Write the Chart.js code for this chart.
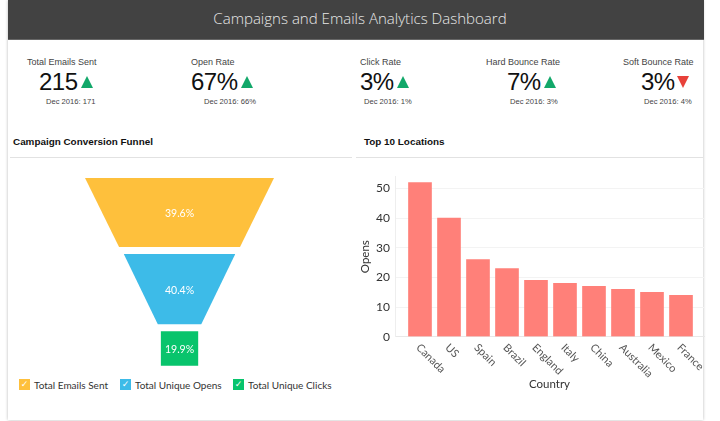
<!DOCTYPE html>
<html>
<head>
<meta charset="utf-8">
<script src="https://cdn.jsdelivr.net/npm/chart.js@4"></script>
<style>
  html, body { margin: 0; padding: 0; background: #fff; }
  body { position: relative; width: 720px; height: 421px; overflow: hidden; font-family: "Liberation Sans", Arial, sans-serif; }
  .card { position: absolute; left: 8px; top: 0; width: 695px; height: 420px; background: #fff; box-shadow: 0 0 3px rgba(0,0,0,0.28); }
  .header { position: absolute; left: 8px; top: 0; width: 688px; padding-left: 8px; height: 39px; background: #424242; border-bottom: 1px solid #666; color: #e8e8e8; font: 300 15.05px/37px "Open Sans", sans-serif; text-align: center; }
  .kpi-label, .kpi-value, .kpi-prev { position: absolute; white-space: nowrap; }
  .kpi-label { top: 56px; font-size: 9px; line-height: 12px; color: #444; }
  .kpi-value { top: 68px; font-size: 24px; letter-spacing: -0.5px; line-height: 28px; color: #111; }
  .kpi-prev { top: 97px; font-size: 7.6px; line-height: 10px; color: #444; }
  .tri { position: absolute; width: 0; height: 0; border-left: 6.5px solid transparent; border-right: 6.5px solid transparent; }
  .tri.up { top: 76px; border-bottom: 12px solid #12a86a; }
  .tri.down { top: 76px; border-top: 12px solid #e8413a; }
  .section { position: absolute; top: 136px; font-size: 9.9px; font-weight: bold; line-height: 12px; color: #111; white-space: nowrap; }
  .rule { position: absolute; top: 157px; height: 1px; background: #e2e2e2; }
  canvas { position: absolute; }
  .legend { position: absolute; top: 379px; font: 10px/12px Lato, sans-serif; color: #333; white-space: nowrap; }
  .legend i { position: absolute; top: 0; width: 11px; height: 11px; color: #fff; font: bold 9px/11px "DejaVu Sans", sans-serif; text-align: center; }
  .legend span { position: absolute; top: 0; }
</style>
</head>
<body>
<div class="card"></div>
<div class="header">Campaigns and Emails Analytics Dashboard</div>
<div id="kpis"></div>
<div class="section" style="left:13px">Campaign Conversion Funnel</div>
<div class="section" style="left:364px">Top 10 Locations</div>
<div class="rule" style="left:10px;width:342px"></div>
<div class="rule" style="left:356px;width:347px"></div>
<canvas id="funnel" style="left:10px;top:170px;width:340px;height:205px"></canvas>
<div id="legend"></div>
<canvas id="bars" style="left:350px;top:160px;width:366px;height:232px"></canvas>
<script>
// kpi row
const kpiLabels = ["Total Emails Sent", "Open Rate", "Click Rate", "Hard Bounce Rate", "Soft Bounce Rate"];
const kpiValues = ["215", "67%", "3%", "7%", "3%"];
const kpiPrevious = ["Dec 2016: 171", "Dec 2016: 66%", "Dec 2016: 1%", "Dec 2016: 3%", "Dec 2016: 4%"];
const kpiTrends = ["up", "up", "up", "up", "down"];

// funnel
const funnelStages = ["Total Emails Sent", "Total Unique Opens", "Total Unique Clicks"];
const funnelShares = [39.6, 40.4, 19.9];
const funnelTopWidths = [100, 59, 20];
const funnelBottomWidths = [64, 23, 20];
const funnelColors = ["#fec03c", "#3dbbe8", "#08c46c"];

// bars
const countries = ["Canada", "US", "Spain", "Brazil", "England", "Italy", "China", "Australia", "Mexico", "France"];
const opens = [52, 40, 26, 23, 19, 18, 17, 16, 15, 14];
const yTicks = [0, 10, 20, 30, 40, 50];

const chartFont = "Lato, sans-serif";
const axisText = "#333";

const kpiLabelX = [27, 191, 360, 486, 623];
const kpiValueX = [39, 191, 360, 507, 641];
const kpiTriX = [81, 241, 397, 544, 677];
const kpiPrevX = [46, 204, 364, 510, 644];
const kpis = document.getElementById("kpis");
kpiLabels.forEach((label, i) => {
  kpis.insertAdjacentHTML("beforeend",
    '<div class="kpi-label" style="left:' + kpiLabelX[i] + 'px">' + label + "</div>" +
    '<div class="kpi-value" style="left:' + kpiValueX[i] + 'px">' + kpiValues[i] + "</div>" +
    '<div class="tri ' + kpiTrends[i] + '" style="left:' + kpiTriX[i] + 'px"></div>' +
    '<div class="kpi-prev" style="left:' + kpiPrevX[i] + 'px">' + kpiPrevious[i] + "</div>");
});

const legendBoxX = [19, 120, 233];
const legend = document.getElementById("legend");
funnelStages.forEach((stage, i) => {
  legend.insertAdjacentHTML("beforeend",
    '<div class="legend" style="left:' + legendBoxX[i] + 'px">' +
    '<i style="background:' + funnelColors[i] + '">\u2713</i>' +
    '<span style="left:15px">' + stage + "</span></div>");
});

// one closed shape per stage, stacked by share with a small gap between them
const funnelGap = 4;
let cursor = 0;
const funnelDatasets = funnelStages.map((stage, i) => {
  const top = cursor;
  const bottom = top + funnelShares[i];
  cursor = bottom + funnelGap;
  const t = funnelTopWidths[i] / 2;
  const b = funnelBottomWidths[i] / 2;
  return {
    label: stage,
    data: [{ x: -t, y: top }, { x: -b, y: bottom }, { x: b, y: bottom }, { x: t, y: top }],
    showLine: true,
    tension: 0,
    borderWidth: 0,
    pointRadius: 0,
    backgroundColor: funnelColors[i],
    fill: { value: top },
    mid: (top + bottom) / 2,
    share: funnelShares[i],
  };
});

const funnelLabels = {
  id: "funnelLabels",
  afterDatasetsDraw(chart) {
    const { ctx, scales } = chart;
    ctx.save();
    ctx.fillStyle = "#fff";
    ctx.font = "10.5px " + chartFont;
    ctx.textAlign = "center";
    ctx.textBaseline = "middle";
    chart.data.datasets.forEach((d) => {
      ctx.fillText(d.share.toFixed(1) + "%", scales.x.getPixelForValue(0), scales.y.getPixelForValue(d.mid) + 1.5);
    });
    ctx.restore();
  },
};

new Chart(document.getElementById("funnel"), {
  type: "scatter",
  data: { datasets: funnelDatasets },
  plugins: [funnelLabels],
  options: {
    responsive: false,
    animation: false,
    layout: { padding: 0 },
    plugins: { legend: { display: false }, tooltip: { enabled: false } },
    scales: {
      x: { type: "linear", display: false, min: -89.7, max: 90.2 },
      y: { type: "linear", display: false, reverse: true, min: -4.6, max: 113.2 },
    },
  },
});

// chart.js only end-aligns rotated ticks, these hang down to the right so draw them here
const slantedTicks = {
  id: "slantedTicks",
  afterDraw(chart) {
    const { ctx, scales } = chart;
    ctx.save();
    ctx.fillStyle = "#555";
    ctx.font = "11px " + chartFont;
    ctx.textAlign = "left";
    ctx.textBaseline = "middle";
    countries.forEach((name, i) => {
      ctx.save();
      ctx.translate(scales.x.getPixelForValue(i) - 2, scales.y.bottom + 9);
      ctx.rotate(Math.PI / 4);
      ctx.fillText(name, 0, 0);
      ctx.restore();
    });
    ctx.restore();
  },
};

new Chart(document.getElementById("bars"), {
  type: "bar",
  data: {
    datasets: [{
      label: "Opens",
      data: countries.map((c, i) => ({ x: i, y: opens[i] })),
      backgroundColor: "#ff8079",
      barThickness: 23,
    }],
  },
  plugins: [slantedTicks],
  options: {
    responsive: false,
    animation: false,
    layout: { padding: { top: 16.7, right: 12, bottom: 0, left: 0 } },
    plugins: { legend: { display: false }, tooltip: { enabled: false } },
    scales: {
      x: {
        type: "linear",
        offset: false,
        min: -0.862,
        max: 9.793,
        afterFit: (s) => { s.height = 55.3; },
        ticks: { display: false },
        grid: { display: false },
        border: { color: "#e8e8e8" },
        title: { display: true, text: "Country", color: axisText, font: { family: chartFont, size: 11.5 }, padding: { top: 0, bottom: 1 } },
      },
      y: {
        min: 0,
        max: 54,
        afterFit: (s) => { s.width = 45; },
        afterBuildTicks: (s) => { s.ticks = yTicks.map((value) => ({ value })); },
        ticks: { color: axisText, padding: 5, font: { family: chartFont, size: 12 } },
        grid: { color: "#f3f3f3", drawTicks: false },
        border: { color: "#eeeeee" },
        title: { display: true, text: "Opens", color: axisText, font: { family: chartFont, size: 11.5 }, padding: { top: 8, bottom: 0 } },
      },
    },
  },
});
</script>
</body>
</html>
